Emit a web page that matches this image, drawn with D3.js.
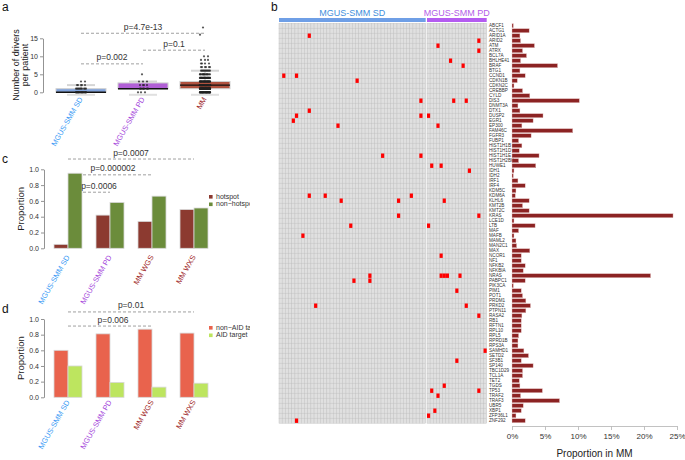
<!DOCTYPE html>
<html><head><meta charset="utf-8">
<script src="https://cdn.jsdelivr.net/npm/d3@7"></script>
<style>body{margin:0;background:#fff;} svg{display:block;font-family:"Liberation Sans",Arial,sans-serif;}</style>
</head><body><svg id="chart" width="685" height="460"></svg>
<script>
// ---------------- DATA ----------------
// Panel a
const groupsA = ["MGUS-SMM SD", "MGUS-SMM PD", "MM"];
const driverValues = [0, 1, 2, 3, 4, 5, 6, 7, 8, 9, 10, 16, 18];
const countsSD = [20, 10, 5, 2, 0, 0, 0, 0, 0, 0, 0, 0, 0];
const countsPD = [3, 6, 4, 3, 0, 1, 0, 0, 0, 0, 0, 0, 0];
const countsMM = [40, 60, 60, 40, 25, 15, 10, 6, 4, 3, 2, 1, 1];
const boxQ1 = [0, 1, 1];
const boxMedian = [0, 1, 2];
const boxQ3 = [1, 2.6, 3];
const whiskerHi = [2, 3, 6];
const pLabelsA = ["p=0.002", "p=0.1", "p=4.7e-13"];
const pFromA = [0, 1, 0];
const pToA = [1, 2, 2];
const pLevelA = [7.9, 11.7, 16.4];
const yTicksA = [0, 5, 10, 15];

// Panels c and d
const groupsCD = ["MGUS-SMM SD", "MGUS-SMM PD", "MM WGS", "MM WXS"];
const hotspot = [0.05, 0.42, 0.34, 0.49];
const nonHotspot = [0.95, 0.58, 0.66, 0.51];
const nonAID = [0.60, 0.81, 0.87, 0.82];
const aidTarget = [0.40, 0.19, 0.13, 0.18];
const pLabelsC = ["p=0.0006", "p=0.000002", "p=0.0007"];
const pToC = [1, 2, 3];
const pLevelC = [0.71, 0.93, 1.13];
const pLabelsD = ["p=0.006", "p=0.01"];
const pToD = [2, 3];
const pLevelD = [0.91, 1.09];
const yTicksCD = [0, 0.2, 0.4, 0.6, 0.8, 1.0];

// Panel b
const genes = ["ABCF1","ACTG1","ARID1A","ARID2","ATM","ATRX","BCL7A","BHLHE41","BRAF","BTG1",
"CCND1","CDKN1B","CDKN2C","CREBBP","CYLD","DIS3","DNMT3A","DTX1","DUSP2","EGR1",
"EP300","FAM46C","FGFR3","FUBP1","HIST1H1B","HIST1H1D","HIST1H1E","HIST1H2BK","HUWE1","IDH1",
"IDH2","IRF1","IRF4","KDM5C","KDM6A","KLHL6","KMT2B","KMT2C","KRAS","LCE1D",
"LTB","MAF","MAFB","MAML2","MAN2C1","MAX","NCOR1","NF1","NFKB2","NFKBIA",
"NRAS","PABPC1","PIK3CA","PIM1","POT1","PRDM1","PRKD2","PTPN11","RASA2","RB1",
"RFTN1","RPL10","RPL5","RPRD1B","RPS3A","SAMHD1","SETD2","SF3B1","SP140","TBC1D29",
"TCL1A","TET2","TGDS","TP53","TRAF2","TRAF3","UBR5","XBP1","ZFP36L1","ZNF292"];
const mmProportion = [0.2,2.6,1.2,1.3,3.4,1.6,2.2,1.3,6.9,1.2,
2.0,0.8,0.3,1.6,2.7,10.2,0.9,1.2,4.7,3.2,
1.5,9.2,2.9,1.0,1.5,1.1,4.1,1.0,3.6,0.3,
0.2,0.9,2.0,0.6,0.5,2.6,1.6,2.6,24.4,0.3,
3.5,1.0,0.3,0.6,0.7,2.7,1.4,1.4,2.0,1.7,
21.0,2.0,0.2,1.4,1.6,2.1,2.8,2.1,1.5,1.4,
1.4,1.4,1.0,0.9,0.9,1.8,2.5,1.4,3.2,1.6,
1.6,1.1,1.2,4.6,1.3,7.2,1.7,1.4,0.6,2.0];
const nSD = 46, nPD = 19;
const mutSD = [["ARID1A",9],["CCND1",1],["CCND1",5],["CDKN1B",24],["DIS3",44],["DTX1",9],
["DUSP2",5],["DUSP2",44],["EGR1",4],["EP300",18],["HIST1H1E",32],["HIST1H1E",44],
["KDM6A",9],["KDM6A",14],["KDM6A",41],["KLHL6",19],["KLHL6",37],["KRAS",37],["LTB",22],
["MAFB",7],["NRAS",28],["PABPC1",23],["PABPC1",28],["PRKD2",11],["ZNF292",5]];
const mutPD = [["ARID2",16],["ATM",3],["ATRX",16],["BHLHE41",7],["BRAF",11],["DIS3",8],["DIS3",12],
["DUSP2",0],["EP300",3],["HUWE1",1],["HUWE1",4],["IDH1",13],["KLHL6",5],["KRAS",16],["LTB",0],
["NCOR1",4],["NRAS",4],["NRAS",5],["NRAS",6],["NRAS",10],["PIM1",9],["PRKD2",12],["RASA2",16],
["SAMHD1",18],["SF3B1",9],["TGDS",5],["TP53",1],["TP53",16],["TRAF2",3],["XBP1",2],["ZFP36L1",0]];
const xTicksB = [0, 5, 10, 15, 20, 25];

// ---------------- STYLE ----------------
const colSD = "#3d9cf5", colPD = "#a64bdc", colMM = "#a0282a";
const labelColorsA = [colSD, colPD, colMM];
const labelColorsCD = [colSD, colPD, colMM, colMM];
const boxFill = ["#7fa2dc", "#b15fd6", "#b0523f"];
const svg = d3.select("#chart");

svg.append("defs").append("clipPath").attr("id", "leftClip")
  .append("rect").attr("x", 0).attr("y", 0).attr("width", 250).attr("height", 460);
const left = svg.append("g").attr("clip-path", "url(#leftClip)");

function letter(g, t, x, y) {
  g.append("text").attr("x", x).attr("y", y).attr("font-size", 12).attr("fill", "#111").text(t);
}
function styleAxis(sel) {
  sel.selectAll("path,line").attr("stroke", "#777").attr("stroke-width", 0.8);
  sel.selectAll("text").attr("font-size", 7).attr("fill", "#333").attr("font-family", "Liberation Sans, Arial, sans-serif");
}
function dashed(g, x1, x2, y) {
  g.append("line").attr("x1", x1).attr("x2", x2).attr("y1", y).attr("y2", y)
    .attr("stroke", "#888").attr("stroke-width", 0.8).attr("stroke-dasharray", "3,2");
}
function rotLabels(g, names, colors, xf, y0) {
  names.forEach((n, i) => {
    g.append("text").attr("transform", `translate(${xf(n) + 2},${y0}) rotate(-60)`)
      .attr("text-anchor", "end").attr("font-size", 7.5).attr("fill", colors[i]).text(n);
  });
}

// ---------------- PANEL A ----------------
const gA = left.append("g");
letter(gA, "a", 2, 11);
const yA = d3.scaleLinear().domain([0, 15]).range([92.3, 38.3]);
const xA = d3.scalePoint().domain(groupsA).range([81, 205]);
const boxW = 50;
gA.append("g").attr("transform", "translate(43,0)")
  .call(d3.axisLeft(yA).tickValues(yTicksA).tickSize(3).tickSizeOuter(0).tickPadding(2)).call(styleAxis);
gA.append("text").attr("transform", "translate(19,65) rotate(-90)").attr("text-anchor", "middle")
  .attr("font-size", 9).attr("fill", "#222").text("Number of drivers");
gA.append("text").attr("transform", "translate(28,65) rotate(-90)").attr("text-anchor", "middle")
  .attr("font-size", 9).attr("fill", "#222").text("per patient");

groupsA.forEach((g, i) => {
  const cx = xA(g);
  gA.append("line").attr("x1", cx).attr("x2", cx).attr("y1", yA(boxQ3[i])).attr("y2", yA(whiskerHi[i]))
    .attr("stroke", "#d5d5d5").attr("stroke-width", 1.5);
  gA.append("line").attr("x1", cx - 14).attr("x2", cx + 14).attr("y1", yA(whiskerHi[i])).attr("y2", yA(whiskerHi[i]))
    .attr("stroke", "#d5d5d5").attr("stroke-width", 2);
  gA.append("line").attr("x1", cx - 14).attr("x2", cx + 14).attr("y1", yA(0) + 2.5).attr("y2", yA(0) + 2.5)
    .attr("stroke", "#e0e0e0").attr("stroke-width", 2);
  gA.append("rect").attr("x", cx - boxW / 2).attr("width", boxW)
    .attr("y", yA(boxQ3[i])).attr("height", Math.max(yA(boxQ1[i]) - yA(boxQ3[i]), 0.5))
    .attr("fill", boxFill[i]).attr("stroke", "#d0d0d0").attr("stroke-width", 1);
  gA.append("line").attr("x1", cx - boxW / 2).attr("x2", cx + boxW / 2)
    .attr("y1", yA(boxMedian[i])).attr("y2", yA(boxMedian[i])).attr("stroke", "#111").attr("stroke-width", 1.4);
});
[countsSD, countsPD, countsMM].forEach((counts, gi) => {
  const cx = xA(groupsA[gi]);
  counts.forEach((c, vi) => {
    for (let k = 0; k < c; k++) {
      const jit = ((k * 7 + vi * 3) % 11 - 5);
      gA.append("circle").attr("cx", cx + jit).attr("cy", yA(driverValues[vi])).attr("r", 1.1)
        .attr("fill", "#222").attr("opacity", 0.75);
    }
  });
});
pLabelsA.forEach((lab, i) => {
  const x1 = xA(groupsA[pFromA[i]]), x2 = xA(groupsA[pToA[i]]), y = yA(pLevelA[i]);
  dashed(gA, x1, x2, y);
  gA.append("text").attr("x", (x1 + x2) / 2).attr("y", y - 3.5).attr("text-anchor", "middle")
    .attr("font-size", 8.5).attr("fill", "#333").text(lab);
});
rotLabels(gA, groupsA, labelColorsA, xA, 99);

// ---------------- PANELS C & D ----------------
function barPanel(y0px, y1px, letterY, letterT, s1, s2, c1, c2, leg1, leg2, legY, pLabs, pTo, pLev, labY) {
  const g = left.append("g");
  letter(g, letterT, 2, letterY);
  const y = d3.scaleLinear().domain([0, 1]).range([y0px, y1px]);
  const x = d3.scaleBand().domain(groupsCD).range([47, 215]).paddingInner(1 / 3).paddingOuter(1 / 6);
  const xs = d3.scaleBand().domain([0, 1]).range([0, x.bandwidth()]);
  g.append("g").attr("transform", "translate(44,0)")
    .call(d3.axisLeft(y).tickValues(yTicksCD).tickFormat(d3.format(".1f")).tickSize(3).tickSizeOuter(0).tickPadding(2))
    .call(styleAxis);
  g.append("text").attr("transform", `translate(24,${(y0px + y1px) / 2}) rotate(-90)`).attr("text-anchor", "middle")
    .attr("font-size", 9.5).attr("fill", "#222").text("Proportion");
  const ctr = n => x(n) + x.bandwidth() / 2;
  pLabs.forEach((lab, i) => {
    dashed(g, ctr(groupsCD[0]), ctr(groupsCD[pTo[i]]), y(pLev[i]));
  });
  [s1, s2].forEach((ser, si) => {
    groupsCD.forEach((n, i) => {
      g.append("rect").attr("x", x(n) + xs(si)).attr("width", xs.bandwidth())
        .attr("y", y(ser[i])).attr("height", y(0) - y(ser[i]))
        .attr("fill", si === 0 ? c1 : c2).attr("stroke", "#d8d8d8").attr("stroke-width", 0.8);
    });
  });
  // p-value text, centred on the visible (unobstructed) part of each bracket
  const barRight = x(groupsCD[0]) + x.bandwidth();
  pLabs.forEach((lab, i) => {
    const x2 = ctr(groupsCD[pTo[i]]);
    const x1 = pTo[i] === 3 ? ctr(groupsCD[0]) : (pTo[i] === 1 ? barRight + 6 : ctr(groupsCD[0]) + 6);
    g.append("text").attr("x", (x1 + x2) / 2).attr("y", y(pLev[i]) - 3.5).attr("text-anchor", "middle")
      .attr("font-size", 8.5).attr("fill", "#333").text(lab);
  });
  [[leg1, c1], [leg2, c2]].forEach(([t, c], i) => {
    g.append("rect").attr("x", 209).attr("y", legY + i * 7.5 - 2).attr("width", 3.6).attr("height", 3.6).attr("fill", c);
    g.append("text").attr("x", 216).attr("y", legY + i * 7.5 + 1.5).attr("font-size", 7).attr("fill", "#333").text(t);
  });
  rotLabels(g, groupsCD, labelColorsCD, ctr, labY);
}
barPanel(248.3, 169.3, 163, "c", hotspot, nonHotspot, "#8c3a30", "#6b8c3b", "hotspot", "non\u2212hotspot", 197, pLabelsC, pToC, pLevelC, 257);
barPanel(397.3, 319, 313, "d", nonAID, aidTarget, "#e9634d", "#bde55f", "non\u2212AID target", "AID target", 328, pLabelsD, pToD, pLevelD, 402);

// ---------------- PANEL B ----------------
const gB = svg.append("g");
letter(gB, "b", 271, 11);
const xSD = d3.scaleBand().domain(d3.range(nSD)).range([279, 425.7]);
const xPD = d3.scaleBand().domain(d3.range(nPD)).range([427, 486.7]);
const yB = d3.scaleBand().domain(genes).range([23.2, 423.2]);

gB.append("rect").attr("x", xSD.range()[0]).attr("width", xSD.range()[1] - xSD.range()[0])
  .attr("y", 18).attr("height", 4).attr("fill", "#6f9fe6");
gB.append("rect").attr("x", xPD.range()[0]).attr("width", xPD.range()[1] - xPD.range()[0])
  .attr("y", 18).attr("height", 4).attr("fill", "#b45cf0");
gB.append("text").attr("x", (xSD.range()[0] + xSD.range()[1]) / 2).attr("y", 15.5).attr("text-anchor", "middle")
  .attr("font-size", 9).attr("fill", "#3f8fdc").text("MGUS-SMM SD");
gB.append("text").attr("x", (xPD.range()[0] + xPD.range()[1]) / 2).attr("y", 15.5).attr("text-anchor", "middle")
  .attr("font-size", 9).attr("fill", "#b35de8").text("MGUS-SMM PD");

const cells = gB.append("g");
[[xSD, nSD], [xPD, nPD]].forEach(([xs, n]) => {
  genes.forEach(gn => {
    d3.range(n).forEach(c => {
      cells.append("rect").attr("x", xs(c)).attr("y", yB(gn)).attr("width", xs.bandwidth()).attr("height", yB.bandwidth())
        .attr("fill", "#e0e0e0").attr("stroke", "#c2c2c2").attr("stroke-width", 0.45);
    });
  });
});
[[xSD, mutSD], [xPD, mutPD]].forEach(([xs, muts]) => {
  muts.forEach(([gn, c]) => {
    gB.append("rect").attr("x", xs(c)).attr("y", yB(gn) + 0.3).attr("width", xs.bandwidth())
      .attr("height", yB.bandwidth() - 0.6).attr("fill", "#ff0000");
  });
});
genes.forEach(gn => {
  gB.append("text").attr("x", 489).attr("y", yB(gn) + yB.bandwidth() / 2 + 1.6)
    .attr("font-size", 4.6).attr("fill", "#333").text(gn);
});
const xBar = d3.scaleLinear().domain([0, 25]).range([512, 677]);
genes.forEach((gn, i) => {
  gB.append("rect").attr("x", xBar(0)).attr("y", yB(gn) + 0.5).attr("width", xBar(mmProportion[i]) - xBar(0))
    .attr("height", yB.bandwidth() - 1).attr("fill", "#8c2323").attr("stroke", "#e6c4c4").attr("stroke-width", 0.4);
});
const axB = gB.append("g").attr("transform", "translate(0,426)")
  .call(d3.axisBottom(xBar).tickValues(xTicksB).tickFormat(d => d + "%").tickSize(4).tickSizeOuter(0).tickPadding(3));
axB.selectAll("path,line").attr("stroke", "#bbb").attr("stroke-width", 0.9);
axB.selectAll("text").attr("font-size", 8).attr("fill", "#333");
gB.append("text").attr("x", (xBar(0) + xBar(25)) / 2).attr("y", 457).attr("text-anchor", "middle")
  .attr("font-size", 10).attr("fill", "#222").text("Proportion in MM");
</script></body></html>
